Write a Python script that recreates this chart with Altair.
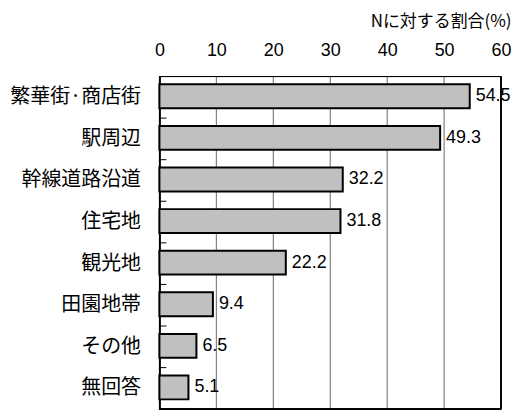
import altair as alt
import pandas as pd

categories = ["繁華街·商店街", "駅周辺", "幹線道路沿道", "住宅地", "観光地", "田園地帯", "その他", "無回答"]
values = [54.5, 49.3, 32.2, 31.8, 22.2, 9.4, 6.5, 5.1]
x_ticks = [0, 10, 20, 30, 40, 50, 60]
axis_title = "Nに対する割合(%)"

df = pd.DataFrame({"cat": categories, "val": values, "label": [f"{v:.1f}" for v in values]})
grid_df = pd.DataFrame({"g": x_ticks[1:-1]})

NUM_FONT = "Liberation Sans, Arial"
CJK_FONT = "Noto Sans CJK JP"

yscale = alt.Scale(domain=categories, paddingInner=0, paddingOuter=0)
xscale = alt.Scale(domain=[0, 60], nice=False)

grid = alt.Chart(grid_df).mark_rule(color="#666666", strokeWidth=1).encode(
    x=alt.X("g:Q", scale=xscale)
)

frame_right = alt.Chart(grid_df).mark_rule(color="black", strokeWidth=1).encode(
    x=alt.datum(60, scale=xscale)
)
frame_top = alt.Chart(grid_df).mark_rule(color="black", strokeWidth=1).encode(
    y=alt.value(0)
)
frame_bottom = alt.Chart(grid_df).mark_rule(color="black", strokeWidth=1.5).encode(
    y=alt.value(334)
)

bars = alt.Chart(df).mark_bar(
    size=24, yOffset=-1, fill="#c0c0c0", stroke="black", strokeWidth=2
).encode(
    x=alt.X(
        "val:Q",
        scale=xscale,
        axis=alt.Axis(
            orient="top",
            values=x_ticks,
            grid=False,
            ticks=False,
            domain=False,
            labelFlush=False,
            labelFont=NUM_FONT,
            labelFontSize=18,
            labelColor="black",
            labelPadding=17,
            title=axis_title,
            titleFont=CJK_FONT,
            titleFontSize=17,
            titleFontWeight="normal",
            titleColor="black",
            titleAlign="right",
            titleAnchor="end",
            titleX=353,
            titleY=-50,
            titleBaseline="alphabetic",
        ),
    ),
    y=alt.Y(
        "cat:N",
        sort=None,
        scale=yscale,
        axis=alt.Axis(
            title=None,
            ticks=False,
            domain=True,
            domainColor="black",
            domainWidth=2,
            labelFont=CJK_FONT,
            labelFontSize=20,
            labelColor="black",
            labelPadding=19,
        ),
    ),
)

ticks = alt.Chart(df).mark_rule(color="black", strokeWidth=1).encode(
    y=alt.Y("cat:N", sort=None, scale=yscale, bandPosition=0),
    x=alt.value(0),
    x2=alt.value(7),
)

labels = alt.Chart(df).mark_text(
    align="left", baseline="middle", dx=6, dy=-1, font=NUM_FONT, fontSize=18, color="black"
).encode(
    x=alt.X("val:Q", scale=xscale),
    y=alt.Y("cat:N", sort=None, scale=yscale, bandPosition=0.5),
    text="label:N",
)

chart = (
    alt.layer(grid, frame_top, frame_bottom, frame_right, bars, ticks, labels)
    .properties(
        width=343,
        height=334,
        background="white",
        autosize=alt.AutoSizeParams(type="none"),
        padding={"left": 152, "top": 68, "right": 12, "bottom": 0},
    )
    .configure_view(stroke=None)
)

chart.save("out.html", embed_options={"renderer": "svg", "actions": False})
